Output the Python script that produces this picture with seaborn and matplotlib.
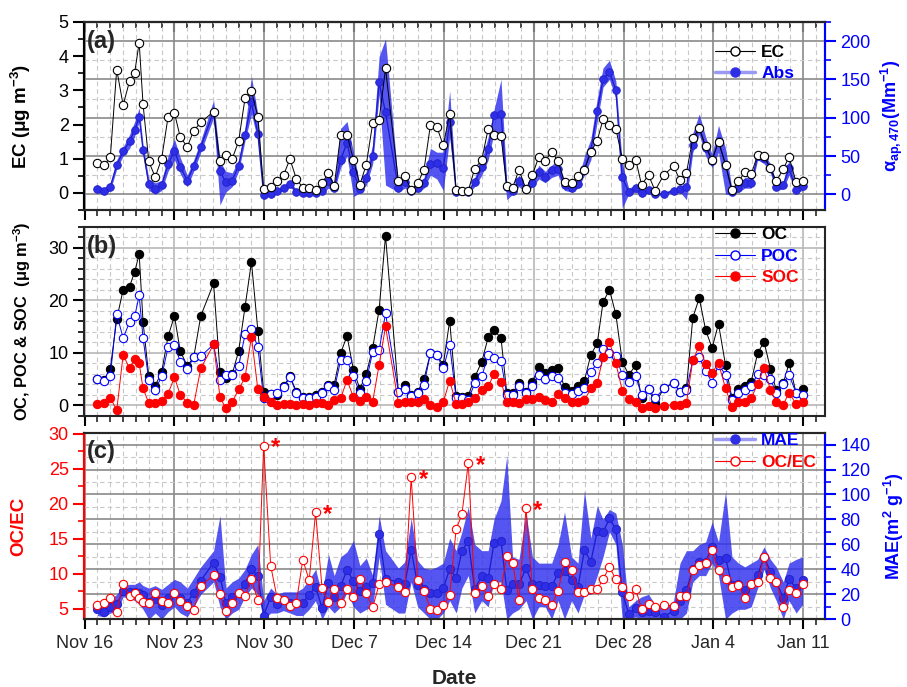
import numpy as np
import pandas as pd
import matplotlib
matplotlib.use("Agg")
import matplotlib.pyplot as plt
import matplotlib.dates as mdates
from matplotlib.ticker import MultipleLocator, FixedLocator, FixedFormatter
from matplotlib.lines import Line2D
import seaborn as sns

# ---------------- data ----------------
start = "2016-11-16"
t_day = [1.0, 1.5, 2.0, 2.5, 3.0, 3.5, 3.9, 4.25, 4.55, 5.0,
         5.5, 6.0, 6.5, 7.0, 7.45, 8.0, 8.5, 9.05, 10.05, 10.55,
         11.0, 11.5, 12.0, 12.5, 13.0, 13.5, 13.95, 14.5, 15.0, 15.5,
         16.0, 16.5, 17.0, 17.5, 18.0, 18.5, 19.0, 19.45, 19.95, 20.45,
         20.95, 21.45, 21.95, 22.45, 22.95, 23.45, 24.45, 24.95, 25.45, 25.95,
         26.45, 26.95, 27.45, 27.95, 28.45, 28.95, 29.4, 29.9, 30.4, 30.95,
         31.45, 31.9, 32.45, 32.9, 33.35, 33.85, 34.4, 34.9, 35.4, 35.9,
         36.4, 36.9, 37.4, 37.95, 38.45, 38.95, 39.45, 39.95, 40.4, 40.9,
         41.4, 41.9, 42.4, 42.95, 43.4, 43.95, 44.45, 45.15, 45.9, 46.4,
         46.9, 47.4, 47.9, 48.4, 48.9, 49.4, 49.95, 50.45, 50.95, 51.45,
         51.95, 52.45, 52.95, 53.45, 53.9, 54.45, 54.9, 55.45, 55.95]

ec = [0.87, 0.81, 1.04, 3.61, 2.57, 3.27, 3.52, 4.40, 2.60, 0.92,
      0.46, 1.00, 2.22, 2.34, 1.63, 1.35, 1.82, 2.06, 2.38, 0.92,
      1.12, 1.00, 1.51, 2.77, 2.98, 2.23, 0.10, 0.18, 0.34, 0.52,
      0.99, 0.41, 0.15, 0.13, 0.09, 0.29, 0.58, 0.20, 1.70, 1.70,
      0.97, 0.24, 0.83, 2.04, 2.13, 3.64, 0.34, 0.50, 0.08, 0.28,
      0.68, 1.99, 1.93, 1.39, 2.31, 0.09, 0.07, 0.07, 0.71, 0.96,
      1.88, 1.70, 1.66, 0.19, 0.15, 0.67, 0.10, 0.53, 1.06, 0.94,
      1.21, 0.92, 0.31, 0.29, 0.50, 0.68, 1.20, 1.53, 2.15, 2.00,
      1.88, 1.00, 0.83, 0.97, 0.24, 0.52, 0.07, 0.53, 0.78, 0.37,
      0.58, 1.60, 1.90, 1.36, 0.97, 1.50, 0.83, 0.08, 0.34, 0.60,
      0.54, 1.12, 1.07, 0.73, 0.34, 0.70, 1.05, 0.31, 0.34]

absorb = [7.0, 4.4, 10.0, 38.0, 56.0, 69.0, 84.0, 101.0, 58.0, 13.0,
          7.0, 12.0, 39.0, 57.0, 36.0, 18.0, 37.0, 62.0, 108.0, 30.0,
          16.0, 18.0, 37.5, 78.0, 120.0, 79.0, -1.0, 1.0, 4.4, 7.8,
          13.0, 3.5, 2.0, 2.0, 2.0, 4.4, 17.4, 7.8, 45.0, 67.5,
          29.0, 7.0, 21.0, 50.0, 146.0, 107.0, 7.8, 15.7, 4.8, 7.8,
          14.4, 40.0, 41.0, 34.0, 94.0, 3.5, 4.4, 3.5, 15.7, 35.0,
          59.0, 104.0, 105.0, 9.2, 4.8, 18.0, 6.5, 15.0, 29.0, 23.0,
          32.0, 33.0, 11.5, 8.7, 13.0, 33.0, 57.0, 109.0, 150.0, 160.0,
          136.0, 22.0, 3.5, 7.8, 2.2, 5.7, 0.4, 0.4, 4.8, 6.5,
          9.2, 65.0, 86.0, 61.0, 44.0, 70.0, 38.0, 3.5, 7.8, 14.4,
          14.4, 50.0, 47.0, 34.0, 10.0, 12.0, 34.0, 5.7, 11.0]

absorb_lo = [2, 0, 5, 33, 50, 60, 76, 95, 52, 5,
             0, 5, 30, 45, 27, 10, 30, 55, 100, -14,
             3, 10, 30, 70, 105, 70, -3, -1, 2, 5,
             10, 1, 0, 0, 0, 1, 8, 3, 35, 50,
             -3, 2, 12, 40, 130, 12, 3, 8, 2, 3,
             8, 25, 20, 5, 75, 1, 2, 1, 10, 25,
             45, 80, 70, -7, 0, 10, 2, 10, 20, 15,
             22, 25, 5, 3, 8, 25, 45, 95, 140, 150,
             125, -18, 0, 3, 0, 2, -1, -1, 2, 3,
             -7, 55, 78, 50, 35, 55, 0, 0, 3, 8,
             8, 45, 40, 28, 5, 7, 25, 2, 5]

absorb_hi = [12, 8, 15, 45, 62, 78, 95, 113, 65, 20,
             15, 18, 50, 72, 48, 25, 45, 70, 123, 43,
             30, 28, 45, 88, 154, 104, 2, 3, 7, 12,
             17, 6, 4, 4, 4, 8, 28, 13, 86, 95,
             55, 12, 30, 65, 180, 203, 13, 20, 8, 13,
             22, 60, 55, 55, 135, 6, 7, 6, 22, 45,
             75, 110, 150, 15, 8, 25, 10, 20, 38, 30,
             38, 45, 17, 14, 18, 50, 72, 125, 165, 175,
             148, 40, 8, 12, 5, 9, 2, 2, 8, 10,
             13, 80, 105, 75, 52, 90, 60, 7, 12, 22,
             22, 55, 52, 40, 15, 18, 45, 12, 15]

oc = [5.0, 4.8, 6.9, 16.4, 22.0, 22.6, 25.4, 28.8, 15.9, 5.5,
      3.7, 6.3, 13.1, 17.0, 10.3, 7.5, 9.1, 17.0, 23.2, 6.3,
      5.1, 5.9, 10.3, 18.7, 27.3, 14.2, 2.6, 2.1, 2.0, 3.6,
      5.5, 2.6, 1.5, 1.5, 2.0, 2.6, 3.9, 3.9, 9.9, 13.2,
      6.7, 3.1, 5.9, 10.9, 18.2, 32.3, 2.6, 3.9, 2.0, 2.5,
      5.0, 9.9, 9.5, 7.7, 16.1, 1.8, 1.5, 1.8, 5.3, 8.3,
      12.9, 14.3, 12.8, 2.3, 2.3, 4.2, 2.6, 4.5, 7.2, 6.1,
      6.7, 7.0, 3.4, 2.7, 3.6, 4.7, 9.6, 11.8, 19.6, 22.0,
      17.3, 8.3, 5.8, 7.6, 1.3, 3.1, 0.4, 3.2, 4.3, 2.5,
      3.2, 16.7, 20.4, 14.3, 10.9, 15.5, 7.6, 1.3, 3.1, 3.7,
      4.5, 9.9, 12.1, 6.9, 2.9, 4.2, 8.0, 2.3, 3.1]

poc = [4.95, 4.6, 5.6, 17.3, 12.8, 15.8, 16.9, 20.9, 12.8, 4.8,
       2.9, 5.5, 11.0, 11.5, 8.3, 6.9, 9.1, 9.3, 11.6, 4.8,
       5.8, 5.8, 7.4, 13.5, 14.5, 11.0, 1.3, 2.1, 2.4, 3.4,
       5.3, 2.4, 1.3, 1.3, 1.6, 2.3, 3.7, 2.9, 8.6, 8.6,
       5.5, 2.3, 4.6, 10.2, 10.5, 17.5, 2.6, 3.1, 1.7, 2.3,
       3.9, 9.9, 9.5, 7.0, 11.5, 1.3, 1.3, 1.0, 4.2, 5.5,
       9.5, 9.0, 8.4, 2.0, 2.0, 3.7, 2.3, 3.6, 5.8, 5.0,
       5.6, 5.1, 2.3, 2.1, 2.7, 3.2, 6.4, 8.0, 10.7, 9.9,
       9.3, 5.8, 4.5, 5.5, 2.0, 3.1, 1.3, 3.2, 4.3, 2.5,
       2.9, 8.6, 9.1, 6.5, 4.3, 7.7, 5.8, 1.0, 2.3, 2.9,
       3.7, 5.9, 5.8, 5.0, 2.3, 4.1, 5.8, 2.3, 2.0]

soc = [0.25, 0.4, 1.46, -1.0, 9.6, 7.0, 8.8, 8.0, 3.2, 0.4,
       0.5, 0.8, 2.2, 5.3, 2.0, 0.5, 0.1, 7.0, 11.6, 1.5,
       -0.6, 0.6, 3.0, 5.3, 13.0, 3.0, 1.5, 0.6, 0.1, 0.2,
       0.25, 0.0, 0.2, 0.1, 0.4, 0.5, 0.1, 0.9, 1.3, 4.8,
       1.5, 0.8, 1.5, 0.7, 7.7, 15.0, 0.5, 0.7, 0.7, 0.6,
       1.2, 0.1, -0.4, 0.6, 4.7, 0.25, 0.25, 0.7, 1.3, 2.9,
       3.6, 5.9, 4.5, 0.7, 0.7, 0.4, 1.1, 1.1, 1.5, 1.0,
       0.6, 2.2, 1.3, 0.7, 0.7, 0.9, 3.2, 4.2, 9.1, 12.1,
       8.0, 2.8, 1.2, 0.7, -0.6, -0.1, -0.6, -0.1, 0.1, 0.1,
       0.4, 8.6, 11.3, 7.8, 6.2, 8.0, 3.2, -0.3, 0.7, 0.7,
       1.3, 4.1, 7.0, 2.9, 0.7, 0.1, 2.4, 0.2, 0.7]

oc_ec = [5.6, 5.86, 6.5, 4.5, 8.6, 6.9, 7.2, 6.5, 6.0, 5.76,
         7.2, 6.1, 5.86, 7.2, 6.1, 5.4, 4.9, 8.3, 9.8, 7.05,
         4.67, 5.86, 7.2, 6.8, 9.2, 6.2, 28.3, 11.15, 6.57, 6.24,
         5.4, 5.9, 12.0, 9.1, 18.8, 8.0, 6.0, 7.8, 5.86, 7.8,
         6.7, 9.3, 7.2, 5.2, 8.5, 8.9, 8.05, 7.4, 23.8, 9.1,
         7.6, 4.95, 4.9, 5.5, 6.95, 16.35, 18.5, 25.8, 7.3, 8.2,
         6.8, 8.5, 7.8, 12.5, 11.6, 6.3, 19.4, 7.8, 6.6, 6.3,
         5.5, 7.6, 11.7, 10.6, 7.4, 7.4, 7.8, 7.8, 9.2, 11.0,
         9.2, 8.05, 6.9, 7.8, 5.0, 5.7, 5.2, 5.6, 5.4, 6.9,
         6.8, 10.5, 11.2, 11.6, 13.4, 10.5, 9.3, 8.15, 8.4, 6.6,
         8.5, 8.9, 12.4, 9.4, 8.9, 5.3, 7.7, 7.3, 8.6]

mae = [8.3, 6.1, 10.1, 12.0, 22.5, 21.5, 22.0, 21.0, 19.5, 14.0,
       16.0, 11.5, 16.8, 20.8, 16.8, 13.3, 21.3, 31.0, 45.3, 34.1,
       13.3, 17.6, 21.3, 28.3, 40.0, 34.7, 2.9, 18.0, 12.0, 15.5,
       13.3, 12.8, 13.3, 19.5, 26.1, 9.3, 29.0, 18.1, 26.4, 39.7,
       30.4, 22.4, 26.0, 29.0, 68.3, 32.0, 30.0, 28.0, 55.5, 27.5,
       24.0, 20.8, 20.8, 24.8, 40.3, 33.3, 54.7, 62.7, 24.0, 35.0,
       32.8, 60.8, 62.7, 23.5, 28.3, 28.0, 40.8, 28.0, 27.5, 26.4,
       26.4, 36.8, 38.8, 31.5, 25.9, 55.5, 46.1, 70.7, 69.6, 80.8,
       72.3, 22.1, 4.3, 8.8, 6.0, 7.0, 5.6, 2.1, 6.9, 15.0,
       23.2, 40.0, 46.0, 46.0, 58.0, 47.5, 49.3, 27.5, 28.0, 23.5,
       28.0, 35.5, 50.0, 38.0, 30.0, 17.3, 32.3, 24.8, 31.5]

mae_lo = [3, 2, 5, 6, 18, 17, 15, 12, 8, 0,
          5, 0, 6, 10, 5, 2, 10, 20, 30, 10,
          0, 5, 8, 18, 25, 20, 0, 5, 5, 7,
          5, 3, 3, 8, 15, 0, 10, 5, 10, 22,
          10, 5, 8, 10, 50, 12, 5, 5, 30, 10,
          5, 0, 0, 5, 15, 5, 25, 35, 5, 15,
          10, 30, 30, 0, 5, 8, 15, 0, 10, 10,
          0, 15, 0, 15, 5, 20, 20, 35, 50, 70,
          60, 0, 0, 2, 0, 0, 0, 0, 0, 0,
          5, 30, 35, 35, 45, 35, 0, 5, 8, 8,
          10, 25, 40, 25, 15, 0, 15, 5, 12]

mae_hi = [14, 11, 16, 20, 27, 28, 28, 30, 27, 25,
          27, 24, 28, 32, 30, 25, 33, 42, 55, 83,
          25, 30, 33, 40, 52, 60, 15, 25, 20, 22,
          22, 22, 25, 32, 40, 20, 52, 35, 50, 54,
          63, 43, 49, 35, 83, 55, 41, 46, 81, 47,
          41, 40, 42, 45, 65, 55, 70, 90, 60, 55,
          55, 80, 95, 131, 50, 48, 85, 50, 45, 45,
          45, 60, 86, 50, 45, 103, 65, 91, 80, 88,
          85, 60, 10, 15, 18, 20, 12, 8, 15, 45,
          55, 55, 60, 62, 78, 62, 102, 50, 45, 42,
          45, 48, 58, 48, 42, 30, 45, 48, 50]

star_idx = [26, 34, 48, 57, 66]   # samples flagged with '*' in panel (c)

tick_dates = ["2016-11-16", "2016-11-23", "2016-11-30", "2016-12-07", "2016-12-14",
              "2016-12-21", "2016-12-28", "2017-01-04", "2017-01-11"]
tick_labels = ["Nov 16", "Nov 23", "Nov 30", "Dec 7", "Dec 14",
               "Dec 21", "Dec 28", "Jan 4", "Jan 11"]

# ---------------- style ----------------
sns.set_theme(style="ticks")
plt.rcParams["font.family"] = ["Liberation Sans", "DejaVu Sans"]
plt.rcParams["mathtext.fontset"] = "custom"
plt.rcParams["mathtext.rm"] = "Liberation Sans"
plt.rcParams["mathtext.bf"] = "Liberation Sans:bold"
plt.rcParams["mathtext.it"] = "Liberation Sans:italic"
plt.rcParams["mathtext.default"] = "bf"
plt.rcParams["axes.linewidth"] = 1.5

BLUE = "#0000ff"
RED = "#ff0000"
BAND = "#3030ee"
DOT = "#2e2ee6"
LIGHTBLUE = "#9a9af5"
GRID_MAJ = "#8a8a8a"
GRID_MIN = "#c8c8c8"
TICK_FS = 13
LAB_FS = 13.5

base = pd.Timestamp(start)
df = pd.DataFrame({
    "time": base + pd.to_timedelta(t_day, unit="D"),
    "ec": ec, "abs": absorb, "abs_lo": absorb_lo, "abs_hi": absorb_hi,
    "oc": oc, "poc": poc, "soc": soc,
    "ocec": oc_ec, "mae": mae, "mae_lo": mae_lo, "mae_hi": mae_hi,
})

tick_nums = mdates.date2num(pd.to_datetime(tick_dates))
xmin = base - pd.Timedelta(days=0.05)
xmax = base + pd.Timedelta(days=57.7)

fig = plt.figure(figsize=(9.07, 6.87), dpi=100)
W, H = 907.0, 687.0
L, R = 84.0, 825.0
def rect(top, bottom):
    return [L / W, 1 - bottom / H, (R - L) / W, (bottom - top) / H]

ax_a = fig.add_axes(rect(22, 210))
ax_b = fig.add_axes(rect(226.7, 415.7))
ax_c = fig.add_axes(rect(433.3, 619.3))
tw_a = ax_a.twinx()
tw_c = ax_c.twinx()


def style_x(ax, labels):
    ax.set_xlim(xmin, xmax)
    ax.xaxis.set_major_locator(FixedLocator(tick_nums))
    ax.xaxis.set_major_formatter(FixedFormatter(tick_labels))
    ax.xaxis.set_minor_locator(mdates.DayLocator())
    ax.tick_params(axis="x", which="major", direction="out", length=7.5, width=1.5,
                   labelsize=TICK_FS, labelbottom=labels, pad=4, color="black")
    ax.tick_params(axis="x", which="minor", direction="out", length=4, width=1.2)
    ax.set_xlabel("")


def style_grid(ax, maj_color=GRID_MAJ):
    ax.set_axisbelow(True)
    ax.grid(True, which="major", color=maj_color, lw=1.2, ls="-")
    ax.grid(True, which="minor", color=GRID_MIN, lw=0.8, ls=(0, (4, 3)))


def right_axis(ax, color, maj, mnr, label, ylim, xcoord):
    ax.set_ylim(*ylim)
    ax.yaxis.set_major_locator(MultipleLocator(maj))
    ax.yaxis.set_minor_locator(MultipleLocator(mnr))
    ax.yaxis.tick_right()
    ax.yaxis.set_label_position("right")
    ax.tick_params(axis="y", which="major", direction="out", length=8, width=1.5,
                   colors=color, labelsize=TICK_FS, pad=3, left=False, right=True,
                   labelleft=False, labelright=True)
    ax.tick_params(axis="y", which="minor", direction="out", length=4, width=1.2,
                   colors=color, left=False, right=True)
    ax.set_ylabel(label, color=color, fontsize=13, fontweight="bold")
    ax.yaxis.set_label_coords(xcoord, 0.5)


def left_axis(ax, color, maj, mnr, label, ylim, xcoord, fs=LAB_FS):
    ax.set_ylim(*ylim)
    ax.yaxis.set_major_locator(MultipleLocator(maj))
    ax.yaxis.set_minor_locator(MultipleLocator(mnr))
    ax.yaxis.tick_left()
    ax.yaxis.set_label_position("left")
    ax.tick_params(axis="y", which="major", direction="out", length=8, width=1.5,
                   colors=color, labelsize=TICK_FS, pad=3, left=True, right=False,
                   labelleft=True, labelright=False)
    ax.tick_params(axis="y", which="minor", direction="out", length=4, width=1.2,
                   colors=color, left=True, right=False)
    ax.set_ylabel(label, color=color, fontsize=fs, fontweight="bold")
    ax.yaxis.set_label_coords(xcoord, 0.5)


LEG = dict(loc="upper left", frameon=False, borderpad=0, borderaxespad=0,
           handlelength=2.3, handletextpad=0.35, labelspacing=0.38,
           prop={"weight": "bold", "size": 12.5})

# ---------------- panel (a) ----------------
ax_a.fill_between(df["time"], df["abs_lo"], df["abs_hi"], color=BAND, alpha=0.82, lw=0)
sns.lineplot(data=df, x="time", y="abs", ax=ax_a, color="#1a1ad0", lw=0.9,
             marker="o", markersize=5.5, markerfacecolor=DOT, markeredgecolor="#2020c8",
             markeredgewidth=0.6, estimator=None, sort=False)
sns.lineplot(data=df, x="time", y="ec", ax=tw_a, color="black", lw=0.7,
             marker="o", markersize=6, markerfacecolor="white", markeredgecolor="black",
             markeredgewidth=0.8, estimator=None, sort=False)
right_axis(ax_a, BLUE, 50, 25, "α$_{ap,470}$(Mm$^{-1}$)", (-20.5, 225), 1.073)
left_axis(tw_a, "black", 1, 0.5, "EC (μg m$^{-3}$)", (-0.5, 5), -0.069)
style_x(ax_a, False)
style_grid(ax_a)
tw_a.set_xlim(xmin, xmax)
for ax in (ax_a, tw_a):
    ax.spines["right"].set_color(BLUE)
    ax.spines["left"].set_color("black")
sec = ax_a.secondary_xaxis("top")
sec.xaxis.set_major_locator(FixedLocator(tick_nums))
sec.xaxis.set_minor_locator(mdates.DayLocator())
sec.tick_params(which="major", direction="in", length=7.5, width=1.5, labeltop=False)
sec.tick_params(which="minor", direction="in", length=4, width=1.2)

leg_a = tw_a.legend(handles=[
    Line2D([], [], color="black", lw=0.8, marker="o", ms=6.5, mfc="white", mec="black"),
    Line2D([], [], color=LIGHTBLUE, lw=2.5, marker="o", ms=6.5, mfc=DOT, mec=DOT)],
    labels=["EC", "Abs"], bbox_to_anchor=(0.852, 0.88), **LEG)
for txt, c in zip(leg_a.get_texts(), ["black", BLUE]):
    txt.set_color(c)
tw_a.text(0.004, 0.955, "(a)", transform=tw_a.transAxes, fontsize=17,
          fontweight="bold", va="top", ha="left")

# ---------------- panel (b) ----------------
sns.lineplot(data=df, x="time", y="oc", ax=ax_b, color="black", lw=0.7,
             marker="o", markersize=6, markerfacecolor="black", markeredgecolor="black",
             estimator=None, sort=False)
sns.lineplot(data=df, x="time", y="poc", ax=ax_b, color=BLUE, lw=0.7,
             marker="o", markersize=6, markerfacecolor="white", markeredgecolor=BLUE,
             markeredgewidth=0.8, estimator=None, sort=False)
sns.lineplot(data=df, x="time", y="soc", ax=ax_b, color=RED, lw=0.7,
             marker="o", markersize=6, markerfacecolor=RED, markeredgecolor=RED,
             estimator=None, sort=False)
left_axis(ax_b, "black", 10, 2, "OC, POC & SOC  (μg m$^{-3}$)", (-2, 34), -0.069, fs=11.8)
style_x(ax_b, False)
style_grid(ax_b, "#b8b8b8")
leg_b = ax_b.legend(handles=[
    Line2D([], [], color="black", lw=0.8, marker="o", ms=6.5, mfc="black", mec="black"),
    Line2D([], [], color=BLUE, lw=0.8, marker="o", ms=6.5, mfc="white", mec=BLUE),
    Line2D([], [], color=RED, lw=0.8, marker="o", ms=6.5, mfc=RED, mec=RED)],
    labels=["OC", "POC", "SOC"], bbox_to_anchor=(0.852, 1.0), **LEG)
for txt, c in zip(leg_b.get_texts(), ["black", BLUE, RED]):
    txt.set_color(c)
ax_b.text(0.004, 0.957, "(b)", transform=ax_b.transAxes, fontsize=17,
          fontweight="bold", va="top", ha="left")

# ---------------- panel (c) ----------------
ax_c.fill_between(df["time"], df["mae_lo"], df["mae_hi"], color=BAND, alpha=0.82, lw=0)
sns.lineplot(data=df, x="time", y="mae", ax=ax_c, color="#1a1ad0", lw=0.9,
             marker="o", markersize=6, markerfacecolor=DOT, markeredgecolor="#2020c8",
             markeredgewidth=0.6, estimator=None, sort=False)
sns.lineplot(data=df, x="time", y="ocec", ax=tw_c, color=RED, lw=0.7,
             marker="o", markersize=6, markerfacecolor="white", markeredgecolor=RED,
             markeredgewidth=0.8, estimator=None, sort=False)
right_axis(ax_c, BLUE, 20, 10, "MAE(m$^{2}$ g$^{-1}$)", (0, 149), 1.077)
left_axis(tw_c, RED, 5, 2.5, "OC/EC", (3.5, 30.1), -0.077)
style_x(ax_c, True)
style_grid(ax_c)
tw_c.set_xlim(xmin, xmax)
for ax in (ax_c, tw_c):
    ax.spines["right"].set_color(BLUE)
    ax.spines["left"].set_color(RED)
for i in star_idx:
    tw_c.annotate("*", xy=(df["time"][i], df["ocec"][i]), xytext=(8.5, -1.5),
                  textcoords="offset points", color=RED, fontsize=17,
                  fontweight="bold", ha="center", va="center")
leg_c = tw_c.legend(handles=[
    Line2D([], [], color=LIGHTBLUE, lw=2.5, marker="o", ms=6.5, mfc=DOT, mec=DOT),
    Line2D([], [], color=RED, lw=0.8, marker="o", ms=6.5, mfc="white", mec=RED)],
    labels=["MAE", "OC/EC"], bbox_to_anchor=(0.852, 1.0), **LEG)
for txt, c in zip(leg_c.get_texts(), [BLUE, RED]):
    txt.set_color(c)
tw_c.text(0.004, 0.964, "(c)", transform=tw_c.transAxes, fontsize=17,
          fontweight="bold", va="top", ha="left")
ax_c.set_xlabel("Date", fontsize=LAB_FS + 1.5, fontweight="bold", labelpad=12)

fig.savefig("out.png", dpi=100)
